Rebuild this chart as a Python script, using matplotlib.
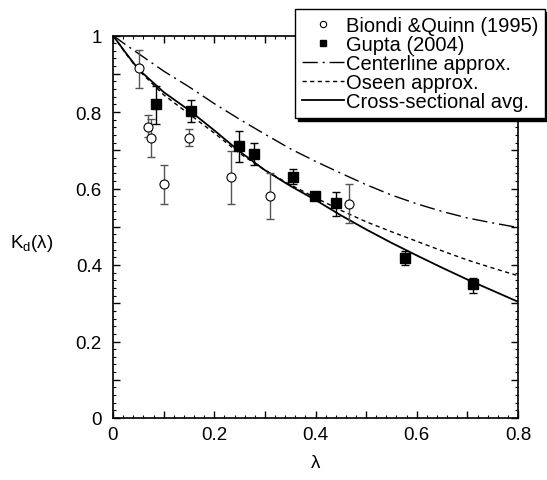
import matplotlib
matplotlib.use("Agg")
import matplotlib.pyplot as plt
from matplotlib.ticker import MultipleLocator, FuncFormatter

plt.rcParams["font.family"] = ["Liberation Sans", "DejaVu Sans"]

# Biondi & Quinn (1995): lambda, Kd, lower, upper
bq_lam = [0.051, 0.070, 0.076, 0.101, 0.151, 0.234, 0.311, 0.467]
bq_k = [0.914, 0.762, 0.733, 0.612, 0.733, 0.630, 0.580, 0.559]
bq_lo = [0.864, 0.735, 0.683, 0.560, 0.711, 0.559, 0.520, 0.509]
bq_hi = [0.963, 0.791, 0.782, 0.662, 0.755, 0.698, 0.640, 0.612]

# Gupta (2004)
gu_lam = [0.085, 0.154, 0.248, 0.279, 0.356, 0.399, 0.441, 0.577, 0.712]
gu_k = [0.820, 0.802, 0.711, 0.691, 0.630, 0.580, 0.561, 0.419, 0.350]
gu_lo = [0.769, 0.775, 0.669, 0.661, 0.611, 0.572, 0.528, 0.399, 0.328]
gu_hi = [0.869, 0.831, 0.750, 0.720, 0.650, 0.588, 0.591, 0.437, 0.367]

# model curves
lam = [0, 0.025, 0.05, 0.1, 0.15, 0.2, 0.25, 0.3, 0.35, 0.4,
       0.45, 0.5, 0.55, 0.6, 0.65, 0.7, 0.75, 0.8]
k_center = [1.0, 0.976, 0.953, 0.907, 0.866, 0.822, 0.781, 0.742, 0.704, 0.671,
            0.640, 0.610, 0.583, 0.560, 0.540, 0.523, 0.510, 0.498]
k_oseen = [1.0, 0.953, 0.910, 0.845, 0.795, 0.745, 0.692, 0.648, 0.610, 0.576,
           0.543, 0.513, 0.487, 0.462, 0.437, 0.413, 0.392, 0.372]
k_avg = [1.0, 0.955, 0.912, 0.852, 0.805, 0.752, 0.697, 0.648, 0.607, 0.570,
         0.530, 0.493, 0.458, 0.425, 0.393, 0.362, 0.333, 0.304]

FS = 13.5

fig = plt.figure(figsize=(5.47, 4.81), dpi=100)
ax = fig.add_axes([113 / 547, 1 - 419 / 481, 405 / 547, 382.5 / 481])

ax.plot(lam, k_center, color="k", lw=1.0, dashes=(11, 3.5, 1.5, 3.5),
        label="Centerline approx.")
ax.plot(lam, k_oseen, color="k", lw=1.0, dashes=(3, 2.5),
        label="Oseen approx.")
ax.plot(lam, k_avg, color="k", lw=1.3, label="Cross-sectional avg.")

ax.errorbar(bq_lam, bq_k,
            yerr=[[k - l for k, l in zip(bq_k, bq_lo)], [h - k for k, h in zip(bq_k, bq_hi)]],
            fmt="none", ecolor="#555555", elinewidth=1.0, capsize=3, capthick=1.0)
ax.plot(bq_lam, bq_k, "o", mfc="white", mec="k", mew=0.8, ms=6.5,
        label="Biondi &Quinn (1995)")
ax.errorbar(gu_lam, gu_k,
            yerr=[[k - l for k, l in zip(gu_k, gu_lo)], [h - k for k, h in zip(gu_k, gu_hi)]],
            fmt="none", ecolor="k", elinewidth=1.0, capsize=3, capthick=1.0)
ax.plot(gu_lam, gu_k, "s", color="k", ms=7, label="Gupta (2004)")

ax.set_xlim(0, 0.8)
ax.set_ylim(0, 1)


def even_label(v, pos):
    n = round(v * 10)
    return "" if n % 2 else f"{v:g}"


for axis in (ax.xaxis, ax.yaxis):
    axis.set_major_locator(MultipleLocator(0.1))
    axis.set_minor_locator(MultipleLocator(0.02))
    axis.set_major_formatter(FuncFormatter(even_label))
ax.tick_params(which="both", direction="in", top=True, right=True, labelsize=FS)
ax.tick_params(which="major", length=5, width=1)
ax.tick_params(which="minor", length=2.5, width=0.8)
ax.tick_params(axis="y", pad=8)
ax.tick_params(axis="x", pad=6)
for s in ax.spines.values():
    s.set_linewidth(1.2)

ax.set_xlabel("λ", fontsize=FS)
ax.xaxis.set_label_coords(0.5, -0.094)
ax.set_ylabel(r"K$_\mathregular{d}$(λ)", fontsize=FS, rotation=0, va="center")
ax.yaxis.set_label_coords(-0.2, 0.46)

h, l = ax.get_legend_handles_labels()
order = [3, 4, 0, 1, 2]
leg = fig.legend([h[i] for i in order], [l[i] for i in order],
                 loc="upper left", bbox_to_anchor=(295 / 547, 1 - 10 / 481),
                 fontsize=14.5, frameon=True, fancybox=False, markerscale=0.7,
                 shadow={"color": "k", "alpha": 1}, handlelength=2.1,
                 handletextpad=0.08, labelspacing=0.0, borderpad=0.35,
                 borderaxespad=0)
leg.get_frame().set_edgecolor("k")
leg.get_frame().set_linewidth(1.0)

fig.savefig("out.png", dpi=100)
